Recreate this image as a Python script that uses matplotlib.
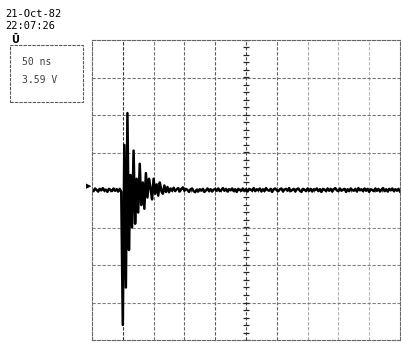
import numpy as np
import matplotlib.pyplot as plt

# scope header
date_str  = "21-Oct-82"
time_str  = "22:07:26"
timebase  = "50 ns"
trig_lvl  = "3.59 V"

# trace samples, in divisions, one every 0.05 div across the 10 div screen
pre   = [0.02, -0.03, 0.04, 0.0, -0.04, 0.03, -0.01, 0.05, -0.02, 0.01,
         -0.05, 0.03, 0.0, -0.03, 0.04, -0.02, 0.02, -0.04, 0.03, -0.05]
burst = [-3.6, 1.2, -2.6, 2.05, -1.6, 0.4, -1.0, 1.05, -0.9, 0.3,
         -0.6, 0.7, -0.4, 0.2, -0.5, 0.45, -0.2, 0.3, 0.05, -0.25,
         0.3, -0.1, 0.15, -0.15, 0.2, 0.0, -0.1, 0.12, -0.05, 0.08, -0.06]
post  = [0.04, -0.02, 0.06, -0.03, 0.02, 0.05, -0.04, 0.03, 0.07, -0.02,
         0.03, 0.0, -0.05, 0.02, 0.04, -0.03, -0.06, 0.01, -0.04, 0.02,
         -0.02, 0.03, -0.05, -0.01, 0.04, -0.03, 0.02, -0.04, 0.01, 0.03,
         -0.02, 0.04, -0.03, 0.0, 0.05, -0.02, 0.03, -0.04, 0.02, -0.01,
         0.04, -0.03, 0.02, -0.05, 0.03, 0.0, -0.02, 0.04, -0.03, 0.02,
         -0.04, 0.03, 0.01, -0.02, 0.05, -0.03, 0.02, -0.01, 0.04, -0.04,
         0.02, -0.03, 0.05, 0.0, -0.02, 0.03, -0.05, 0.02, 0.04, -0.01,
         -0.03, 0.02, 0.04, -0.04, 0.01, 0.03, -0.02, 0.05, -0.03, 0.0,
         0.03, -0.04, 0.02, 0.04, -0.02, -0.05, 0.03, 0.01, -0.03, 0.04,
         -0.02, 0.03, -0.04, 0.02, 0.0, 0.04, -0.03, 0.02, -0.05, 0.03,
         0.01, -0.03, 0.04, -0.02, 0.03, -0.04, 0.02, 0.05, -0.01, -0.03,
         0.04, -0.02, 0.01, 0.03, -0.05, 0.02, -0.03, 0.04, 0.0, -0.02,
         0.03, -0.04, 0.05, -0.01, 0.02, -0.03, 0.04, -0.02, 0.03, -0.05,
         0.02, 0.0, -0.03, 0.04, -0.02, 0.03, -0.04, 0.01, 0.05, -0.03,
         0.02, -0.04, 0.03, -0.01, 0.04, -0.03, 0.02, -0.02, 0.03, -0.04]

v = np.array(pre + burst + post)
t = np.linspace(0., 10., len(v))

W, H = 402, 343
fig = plt.figure(figsize=(W/100., H/100.), dpi=100)
fig.patch.set_facecolor('white')

ax = fig.add_axes([92./W, 3./H, 308./W, 300./H])
ax.set_xlim(0., 10.)
ax.set_ylim(-4., 4.)
ax.set_xticks([])
ax.set_yticks([])
for s in ax.spines.values():
	s.set_linestyle((0, (3, 1.5)))
	s.set_linewidth(0.8)
	s.set_color('0.4')

# graticule, some lines print darker than others
vshade = {1: '0.2', 2: '0.45', 3: '0.4', 4: '0.35', 5: '0.3', 6: '0.4', 7: '0.65', 8: '0.7', 9: '0.7'}
for k in range(1, 10):
	ax.axvline(k, color=vshade[k], lw=0.8, ls=(0, (3, 1.5)))
hshade = {-3: '0.5', -2: '0.5', -1: '0.55', 1: '0.5', 2: '0.45', 3: '0.45'}
for k in range(-3, 4):
	if k == 0:
		continue
	ax.axhline(k, color=hshade[k], lw=0.8, ls=(0, (3, 1.5)))

# minor ticks on the centre cross
yt = np.arange(-4., 4.01, 0.2)
ax.plot(np.full_like(yt, 5.), yt, '_', color='0.15', ms=4, mew=0.9)
xt = np.arange(0., 10.01, 0.2)
ax.plot(xt, np.zeros_like(xt), '|', color='0.3', ms=3, mew=0.7)

ax.plot(t, v, color='k', lw=1.8)

# text block
fig.text(5./W, 1 - 14./H, date_str, family='DejaVu Sans Mono', fontsize=7.5, va='center')
fig.text(5./W, 1 - 26./H, time_str, family='DejaVu Sans Mono', fontsize=7.5, va='center')
box = plt.Rectangle((10./W, 1 - 102./H), 73./W, 57./H, transform=fig.transFigure,
                    fill=False, lw=0.8, ec='0.35', ls=(0, (3, 1)))
fig.add_artist(box)
fig.text(11./W, 1 - 40./H, "Ū", fontsize=7, weight='bold', va='center')
fig.text(22./W, 1 - 62./H, timebase, family='DejaVu Sans Mono', fontsize=7, va='center', color='0.25')
fig.text(22./W, 1 - 80./H, trig_lvl, family='DejaVu Sans Mono', fontsize=7, va='center', color='0.25')
fig.text(86./W, 1 - 186./H, "\u25b6", fontsize=5, va='center')

fig.savefig('out.png', dpi=100)
